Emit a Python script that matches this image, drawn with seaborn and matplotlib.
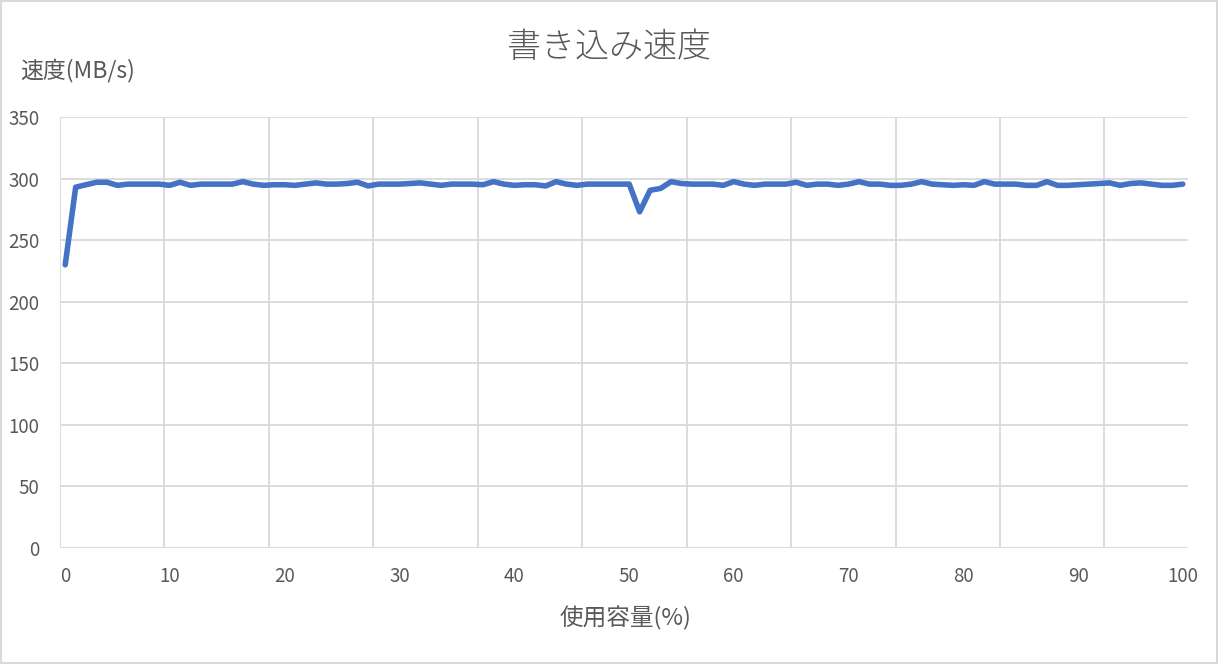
import numpy as np
import pandas as pd
import matplotlib
matplotlib.use("Agg")
import matplotlib.pyplot as plt
import seaborn as sns
from matplotlib.patches import Rectangle

# ---- data ----
speed = [
    230, 293, 295, 297, 297, 294.5, 295.5, 295.5, 295.5, 295.5,
    294.5, 297, 294.5, 295.5, 295.5, 295.5, 295.5, 297.5, 295.5, 294.5,
    295, 295, 294.5, 295.5, 296.5, 295.5, 295.5, 296, 297, 294,
    295.5, 295.5, 295.5, 296, 296.5, 295.5, 294.5, 295.5, 295.5, 295.5,
    295, 297.5, 295.5, 294.5, 295, 295, 294, 297.5, 295.5, 294.5,
    295.5, 295.5, 295.5, 295.5, 295.5, 273, 290.5, 292, 297.5, 296,
    295.5, 295.5, 295.5, 294.5, 297.5, 295.5, 294.5, 295.5, 295.5, 295.5,
    297, 294.5, 295.5, 295.5, 294.5, 295.5, 297.5, 295.5, 295.5, 294.5,
    294.5, 295.5, 297.5, 295.5, 295, 294.5, 295, 294.5, 297.5, 295.5,
    295.5, 295.5, 294.5, 294.5, 297.5, 294.5, 294.5, 295, 295.5, 296,
    296.5, 294.5, 296, 296.5, 295.5, 294.5, 294.5, 295.5,
]
label_positions = [0, 10, 21, 32, 43, 54, 64, 75, 86, 97, 107]
label_texts = ["0", "10", "20", "30", "40", "50", "60", "70", "80", "90", "100"]
y_ticks = [0, 50, 100, 150, 200, 250, 300, 350]

title = "書き込み速度"
ylabel = "速度(MB/s)"
xlabel = "使用容量(%)"

df = pd.DataFrame({"idx": np.arange(len(speed)), "speed": speed})

sns.set_theme(style="white")
plt.rcParams["font.family"] = ["Noto Sans CJK JP", "DejaVu Sans"]

text_color = "#595959"
grid_color = "#d9d9d9"

fig = plt.figure(figsize=(12.18, 6.64), dpi=100)
ax = fig.add_axes([60 / 1218, 1 - 548 / 664, 1128 / 1218, 431 / 664])

sns.lineplot(data=df, x="idx", y="speed", ax=ax, color="#4472C4",
             linewidth=4, solid_joinstyle="round", solid_capstyle="round")

n = len(speed)
ax.set_xlim(-0.5, n - 0.5)
ax.set_ylim(0, 350)
ax.set_yticks(y_ticks)
ax.set_xticks(label_positions)
ax.set_xticklabels(label_texts)
ax.set_xticks(np.arange(-0.5, n, 10), minor=True)

ax.grid(False)
ax.grid(axis="y", which="major", color=grid_color, linewidth=1.3)
ax.grid(axis="x", which="minor", color=grid_color, linewidth=1.3)
for s in ax.spines.values():
    s.set_visible(False)
ax.set_axisbelow(True)

ax.tick_params(axis="both", which="both", length=0, labelsize=13.5,
               labelcolor=text_color)
ax.tick_params(axis="y", pad=15)
ax.tick_params(axis="x", pad=13)
ax.set_xlabel("")
ax.set_ylabel("")

fig.text(0.5, 1 - 47 / 664, title, ha="center", va="center",
         fontsize=24.5, color=text_color, fontweight="light")
fig.text(20 / 1218, 1 - 70 / 664, ylabel, ha="left", va="center",
         fontsize=16.5, color=text_color)
fig.text(625 / 1218, 1 - 618 / 664, xlabel, ha="center", va="center",
         fontsize=17, color=text_color)

fig.patches.append(Rectangle((0.001, 0.001), 0.998, 0.998, transform=fig.transFigure,
                             fill=False, edgecolor=grid_color, linewidth=1.5))

fig.savefig("out.png", dpi=100)
